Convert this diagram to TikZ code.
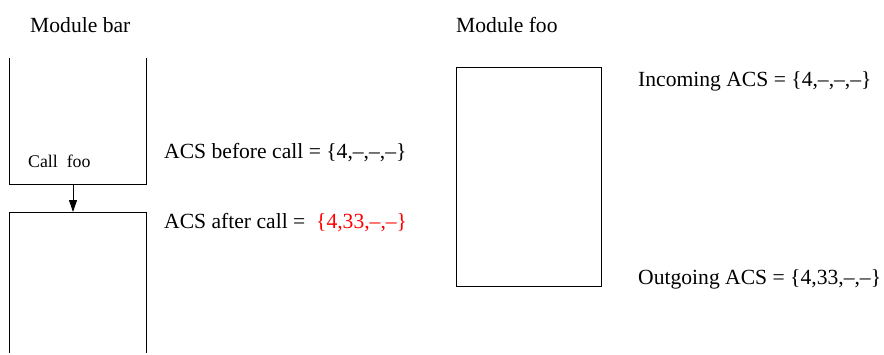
\documentclass[tikz,border=0pt]{standalone}
\usepackage{fontspec}
\setmainfont{Liberation Serif}
\usetikzlibrary{arrows.meta}
\begin{document}
\begin{tikzpicture}[x=1pt,y=-1pt,
  frame/.style={draw=black,line width=0.9pt},
  label/.style={anchor=base west,inner sep=0pt,font=\fontsize{21.6}{25}\selectfont},
  small/.style={anchor=base west,inner sep=0pt,font=\fontsize{17.8}{21}\selectfont},
  flow/.style={line width=0.9pt,-{Triangle[length=12pt,width=8pt]}}]
\useasboundingbox (0,0) rectangle (884,354);
% module bar: caller frame and callee frame
\draw[frame] (9.5,58) -- (9.5,184) -- (146,184) -- (146,58);
\draw[frame] (9.5,353) -- (9.5,212) -- (146,212) -- (146,353);
\coordinate (callout) at (73,184);
\coordinate (retin) at (73,212);
\draw[flow] (callout) -- (retin);
\node[label] (modbar) at (30,32) {Module bar};
\node[small] (call) at (28,167) {Call\ \ foo};
\node[label] (before) at (164,158) {ACS before call = \{4,–,–,–\}};
\node[label] (after) at (164,228) {ACS after call =\ \ \textcolor{red}{\{4,33,–,–\}}};
% module foo
\draw[frame] (456,67.5) rectangle (601,286);
\node[label] (modfoo) at (456,32) {Module foo};
\node[label] (incoming) at (638,86) {Incoming ACS = \{4,–,–,–\}};
\node[label] (outgoing) at (638,284) {Outgoing ACS = \{4,33,–,–\}};
\end{tikzpicture}
\end{document}
